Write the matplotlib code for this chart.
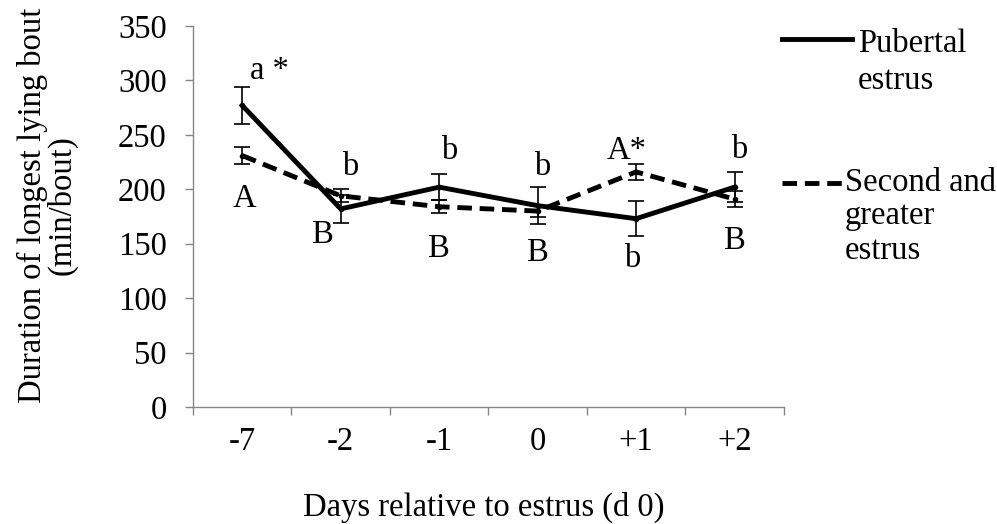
import numpy as np
import matplotlib.pyplot as plt

plt.rcParams['font.family'] = ['Liberation Serif', 'DejaVu Serif']

days = ["-7", "-2", "-1", "0", "+1", "+2"]
pubertal = [277, 182, 202, 185, 173, 202]
pubertal_se = [17, 13, 12, 17, 16, 14]
second = [231, 194, 184, 180, 216, 191]
second_se = [8, 6, 6, 5, 7, 7]

# significance letters: (day index, x offset, value position, text)
labels_top = [(0, 0.28, 309, "a *"), (1, 0.10, 221, "b"), (2, 0.10, 235, "b"),
              (3, 0.05, 221, "b"), (4, -0.10, 235, "A*"), (5, 0.05, 236, "b")]
labels_bot = [(0, 0.02, 191, "A"), (1, -0.18, 158, "B"), (2, 0.0, 145, "B"),
              (3, 0.0, 142, "B"), (4, -0.04, 136, "b"), (5, 0.0, 153, "B")]

fs = 23.5
dash = (0, (3, 1.6))
fig = plt.figure(figsize=(9.97, 5.24), dpi=100)
ax = fig.add_axes([0.1936, 0.2233, 0.5925, 0.727])

x = np.arange(len(days))
ax.errorbar(x, pubertal, yerr=pubertal_se, color='black', lw=3.5, ecolor='black',
            elinewidth=1.2, capsize=6, capthick=1.2, marker='o', ms=3)
ax.errorbar(x, second, yerr=second_se, color='black', lw=3.5, ls=dash,
            ecolor='black', elinewidth=1.2, capsize=6, capthick=1.2,
            marker='o', ms=3)

for i, off, v, t in labels_top + labels_bot:
    ax.text(i + off, v, t, ha='center', va='center', fontsize=fs)

ax.set_xlim(-0.5, 5.5)
ax.set_ylim(0, 350)
ax.set_yticks(range(0, 351, 50))
ax.set_xticks(np.arange(-0.5, 6, 1))
ax.set_xticklabels([])
ax.set_xticks(x, minor=True)
ax.set_xticklabels(days, minor=True)
ax.tick_params(axis='x', which='major', length=6, color='#868686', width=1)
ax.tick_params(axis='x', which='minor', length=0, pad=14, labelsize=fs)
ax.tick_params(axis='y', length=6, color='#868686', width=1, labelsize=fs, pad=13)

for s in ['top', 'right']:
    ax.spines[s].set_visible(False)
for s in ['left', 'bottom']:
    ax.spines[s].set_color('#868686')
    ax.spines[s].set_linewidth(1)

ax.set_xlabel("Days relative to estrus (d 0)", fontsize=fs)
ax.xaxis.set_label_coords(0.4915, -0.222)
ax.set_ylabel("Duration of longest lying bout\n(min/bout)", fontsize=fs,
              linespacing=0.95)
ax.yaxis.set_label_coords(-0.195, 0.529)

# legend drawn Excel-style: line next to first text line
ax.plot([0.9966, 1.115], [0.966, 0.966], color='black', lw=3.5,
        transform=ax.transAxes, clip_on=False)
ax.plot([0.9966, 1.101], [0.589, 0.589], color='black', lw=3.5, ls=dash,
        transform=ax.transAxes, clip_on=False)
for y, t in [(0.953, "Pubertal"), (0.856, "estrus")]:
    ax.text(1.125, y, t, transform=ax.transAxes, ha='left', va='center',
            fontsize=fs)
for y, t in [(0.589, "Second and"), (0.503, "greater"), (0.411, "estrus")]:
    ax.text(1.103, y, t, transform=ax.transAxes, ha='left', va='center',
            fontsize=fs)

fig.savefig("out.png", dpi=100)
